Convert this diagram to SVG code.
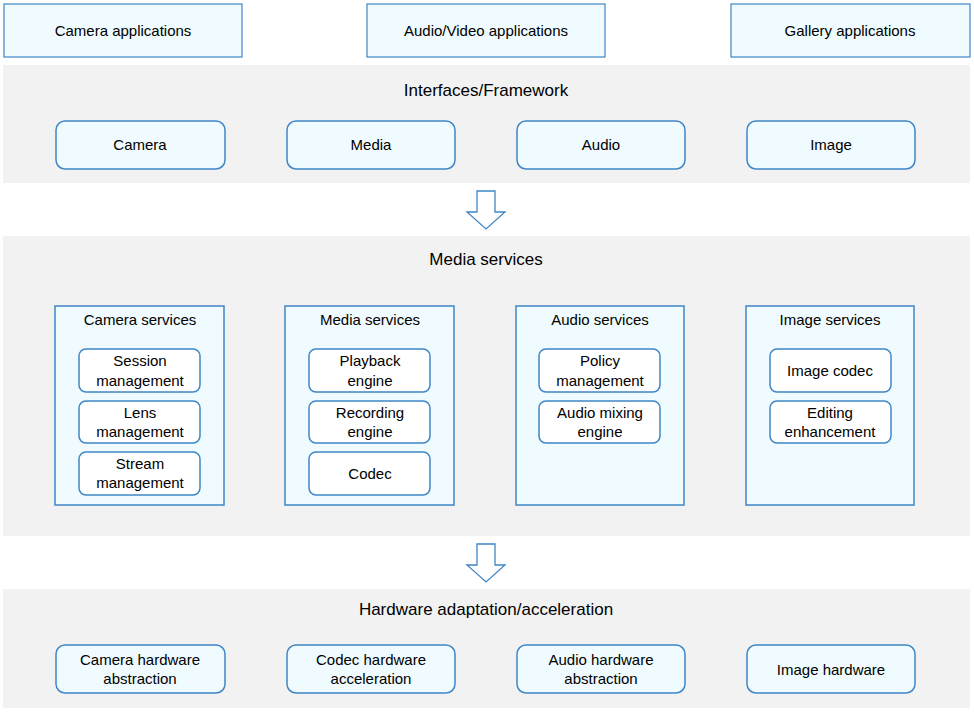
<svg xmlns="http://www.w3.org/2000/svg" width="974" height="712" viewBox="0 0 974 712">
<style>
text{font-family:"Liberation Sans",Arial,sans-serif;font-size:15px;fill:#000;text-anchor:middle}
.t{font-size:17px}
.band{fill:#f2f2f2}
.app{fill:#effbfe;stroke:#3f86c6;stroke-width:1.2}
.n{fill:#effbfe;stroke:#3f86c6;stroke-width:1.5}
.w{fill:#fff;stroke:#3f86c6;stroke-width:1.5}
.arr{fill:#fff;stroke:#3f86c6;stroke-width:1.3}
</style>
<rect width="974" height="712" fill="#fff"/>
<rect class="band" x="3" y="65" width="967" height="118"/>
<rect class="band" x="3" y="236" width="967" height="300"/>
<rect class="band" x="3" y="589" width="967" height="119"/>
<g id="apps">
<rect class="app" x="4" y="4" width="238" height="53"/><text x="123" y="36">Camera applications</text>
<rect class="app" x="367" y="4" width="238" height="53"/><text x="486" y="36">Audio/Video applications</text>
<rect class="app" x="731" y="4" width="239" height="53"/><text x="850" y="36">Gallery applications</text>
</g>
<g id="framework">
<text class="t" x="486" y="96">Interfaces/Framework</text>
<rect class="n" x="56" y="121" width="169" height="48" rx="9"/><text x="140" y="150">Camera</text>
<rect class="n" x="287" y="121" width="168" height="48" rx="9"/><text x="371" y="150">Media</text>
<rect class="n" x="517" y="121" width="168" height="48" rx="9"/><text x="601" y="150">Audio</text>
<rect class="n" x="747" y="121" width="168" height="48" rx="9"/><text x="831" y="150">Image</text>
</g>
<g id="connectors">
<path class="arr" d="M477 191H495V212H505L486 229L467 212H477Z"/>
<path class="arr" d="M477 544H495V565H505L486 582L467 565H477Z"/>
</g>
<g id="services">
<text class="t" x="486" y="265">Media services</text>
<rect class="n" x="55" y="306" width="169" height="199"/><text x="140" y="325">Camera services</text>
<rect class="n" x="285" y="306" width="169" height="199"/><text x="370" y="325">Media services</text>
<rect class="n" x="516" y="306" width="168" height="199"/><text x="600" y="325">Audio services</text>
<rect class="n" x="746" y="306" width="168" height="199"/><text x="830" y="325">Image services</text>
<rect class="w" x="79" y="349" width="121" height="43" rx="7"/><text x="140" y="366">Session</text><text x="140" y="386">management</text>
<rect class="w" x="79" y="401" width="121" height="42" rx="7"/><text x="140" y="418">Lens</text><text x="140" y="437">management</text>
<rect class="w" x="79" y="452" width="121" height="43" rx="7"/><text x="140" y="469">Stream</text><text x="140" y="488">management</text>
<rect class="w" x="309" y="349" width="121" height="43" rx="7"/><text x="370" y="366">Playback</text><text x="370" y="386">engine</text>
<rect class="w" x="309" y="401" width="121" height="42" rx="7"/><text x="370" y="418">Recording</text><text x="370" y="437">engine</text>
<rect class="w" x="309" y="452" width="121" height="43" rx="7"/><text x="370" y="479">Codec</text>
<rect class="w" x="539" y="349" width="121" height="43" rx="7"/><text x="600" y="366">Policy</text><text x="600" y="386">management</text>
<rect class="w" x="539" y="401" width="121" height="42" rx="7"/><text x="600" y="418">Audio mixing</text><text x="600" y="437">engine</text>
<rect class="w" x="770" y="349" width="121" height="43" rx="7"/><text x="830" y="376">Image codec</text>
<rect class="w" x="770" y="401" width="121" height="42" rx="7"/><text x="830" y="418">Editing</text><text x="830" y="437">enhancement</text>
</g>
<g id="hardware">
<text class="t" x="486" y="615">Hardware adaptation/acceleration</text>
<rect class="n" x="56" y="645" width="169" height="48" rx="9"/><text x="140" y="665">Camera hardware</text><text x="140" y="684">abstraction</text>
<rect class="n" x="287" y="645" width="168" height="48" rx="9"/><text x="371" y="665">Codec hardware</text><text x="371" y="684">acceleration</text>
<rect class="n" x="517" y="645" width="168" height="48" rx="9"/><text x="601" y="665">Audio hardware</text><text x="601" y="684">abstraction</text>
<rect class="n" x="747" y="645" width="168" height="48" rx="9"/><text x="831" y="675">Image hardware</text>
</g>
</svg>
